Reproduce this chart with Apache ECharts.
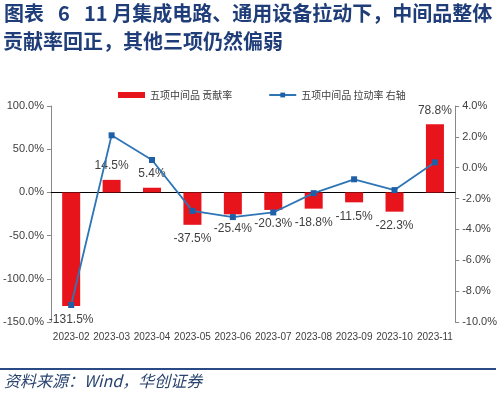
<!DOCTYPE html>
<html>
<head>
<meta charset="utf-8">
<script src="https://cdn.jsdelivr.net/npm/echarts@6/dist/echarts.min.js"></script>
<style>
  html, body { margin: 0; padding: 0; background: #fff; }
  #chart { width: 500px; height: 398px; }
</style>
</head>
<body>
<div id="chart"></div>
<script>
const months = ['2023-02', '2023-03', '2023-04', '2023-05', '2023-06', '2023-07', '2023-08', '2023-09', '2023-10', '2023-11'];
// contribution rate, left axis (%)
const contribution = [-131.5, 14.5, 5.4, -37.5, -25.4, -20.3, -18.8, -11.5, -22.3, 78.8];
// pull rate, right axis (%)
const pullRate = [-8.9, 2.1, 0.5, -2.8, -3.2, -2.9, -1.65, -0.75, -1.45, 0.35];

const titleHead = '图表';
const titleNum = '6';
const titleLine1 = '11 月集成电路、通用设备拉动下，中间品整体';
const titleLine2 = '贡献率回正，其他三项仍然偏弱';
const source = '资料来源：Wind，华创证券';

const red = '#e8141c';
const blue = '#2e75b6';
const navy = '#1f3d78';
const labelFont = 'Liberation Sans';
const titleFont = 'bold 20px "Noto Sans CJK SC"';

const pct = v => v.toFixed(1) + '%';

const myChart = echarts.init(document.getElementById('chart'));

const option = {
  animation: false,
  textStyle: { fontFamily: labelFont },
  graphic: [
    { type: 'text', left: 4, top: 3, style: { text: titleHead, font: titleFont, fill: navy } },
    { type: 'text', left: 58, top: 3, style: { text: titleNum, font: titleFont, fill: navy } },
    { type: 'text', left: 84, top: 3, style: { text: titleLine1, font: titleFont, fill: navy } },
    { type: 'text', left: 3, top: 31, style: { text: titleLine2, font: titleFont, fill: navy } },
    { type: 'rect', left: 0, top: 368, shape: { width: 496, height: 2 }, style: { fill: '#2a4a86' } },
    { type: 'text', left: 4, top: 373, style: { text: source, font: 'italic 16px "Noto Sans CJK SC"', fill: '#2a4470' } },
  ],
  legend: {
    top: 85,
    left: 113,
    itemGap: 36,
    itemWidth: 27,
    itemHeight: 6,
    textStyle: { fontSize: 10, color: '#404040', fontFamily: 'Noto Sans CJK SC' },
    data: [
      { name: '五项中间品 贡献率', icon: 'rect' },
      { name: '五项中间品 拉动率 右轴' },
    ],
  },
  grid: { left: 45, right: 37, top: 106, bottom: 76 },
  xAxis: [
    {
      type: 'category',
      data: months,
      position: 'top',
      axisLine: { onZero: true, lineStyle: { color: '#000', width: 1 } },
      axisTick: { inside: true, length: 4, lineStyle: { color: '#000' } },
      axisLabel: { show: false },
    },
    {
      type: 'category',
      data: months,
      position: 'bottom',
      axisLine: { show: false },
      axisTick: { show: false },
      axisLabel: { color: '#404040', fontSize: 10, margin: 10, interval: 0 },
    },
  ],
  yAxis: [
    {
      type: 'value',
      min: -150,
      max: 100,
      interval: 50,
      axisLine: { show: true, lineStyle: { color: '#888' } },
      axisTick: { show: true, length: 4, lineStyle: { color: '#888' } },
      axisLabel: { formatter: pct, color: '#404040', fontSize: 11, margin: 7 },
      splitLine: { show: false },
    },
    {
      type: 'value',
      min: -10,
      max: 4,
      interval: 2,
      axisLine: { show: true, lineStyle: { color: '#888' } },
      axisTick: { show: true, length: 4, lineStyle: { color: '#888' } },
      axisLabel: { formatter: pct, color: '#404040', fontSize: 11, margin: 7 },
      splitLine: { show: false },
    },
  ],
  series: [
    {
      name: '五项中间品 贡献率',
      type: 'bar',
      xAxisIndex: 0,
      yAxisIndex: 0,
      barWidth: 18,
      itemStyle: { color: red },
      label: {
        show: true,
        formatter: p => pct(p.value),
        color: '#404040',
        fontSize: 12,
        distance: 8,
      },
      data: contribution.map(v => ({ value: v, label: { position: v < 0 ? 'bottom' : 'top' } })),
    },
    {
      name: '五项中间品 拉动率 右轴',
      type: 'line',
      xAxisIndex: 0,
      yAxisIndex: 1,
      symbol: 'rect',
      symbolSize: 6,
      lineStyle: { color: blue, width: 1.8 },
      itemStyle: { color: '#1f5fa8' },
      data: pullRate,
      z: 3,
    },
  ],
};

myChart.setOption(option);
</script>
</body>
</html>
